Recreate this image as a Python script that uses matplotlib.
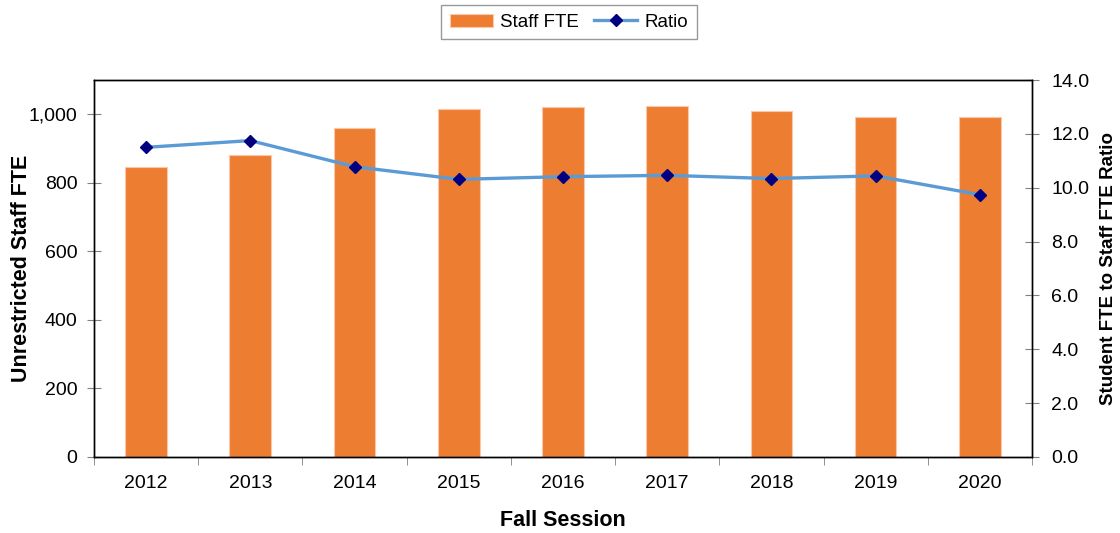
import matplotlib
matplotlib.use("Agg")
import matplotlib.pyplot as plt
from matplotlib.ticker import FuncFormatter, FixedLocator
import numpy as np

plt.rcParams['font.family'] = ['Liberation Sans', 'DejaVu Sans']

years = ['2012', '2013', '2014', '2015', '2016', '2017', '2018', '2019', '2020']
staff_fte = [845, 882, 960, 1016, 1022, 1024, 1010, 992, 992]
ratio = [11.50, 11.75, 10.78, 10.31, 10.41, 10.46, 10.34, 10.44, 9.74]

BAR_COLOR = '#ED7D31'
LINE_COLOR = '#5B9BD5'
MARKER_COLOR = '#000080'

fig = plt.figure(figsize=(11.2, 5.33), dpi=100)
ax = fig.add_axes([0.0839, 0.1426, 0.8375, 0.7073])
ax2 = ax.twinx()

x = np.arange(len(years))
ax.bar(x, staff_fte, width=0.4, color=BAR_COLOR, edgecolor='#F8C8A8',
       linewidth=0.8, label='Staff FTE', zorder=2)
ax2.plot(x, ratio, color=LINE_COLOR, linewidth=2.4, marker='D',
         markersize=6.5, markerfacecolor=MARKER_COLOR,
         markeredgecolor=MARKER_COLOR, label='Ratio', zorder=3)

# left axis
ax.set_xlim(-0.5, len(years) - 0.5)
ax.set_ylim(0, 1100)
ax.set_yticks(range(0, 1001, 200))
ax.yaxis.set_major_formatter(FuncFormatter(lambda v, p: f'{int(v):,}'))
ax.tick_params(axis='y', direction='inout', length=10, color='#808080',
               labelsize=14, pad=7)
ax.set_ylabel('Unrestricted Staff FTE', fontsize=15.5, fontweight='bold')
ax.yaxis.set_label_coords(-0.066, 0.5)

# x axis: labels at centers, ticks between categories
ax.set_xticks(x)
ax.set_xticklabels(years)
ax.tick_params(axis='x', length=0, labelsize=14, pad=13)
ax.xaxis.set_minor_locator(FixedLocator(np.arange(-0.5, len(years), 1.0)))
ax.tick_params(axis='x', which='minor', length=6, color='#808080',
               direction='out')
ax.set_xlabel('Fall Session', fontsize=15.5, fontweight='bold')
ax.xaxis.set_label_coords(0.5, -0.14)

# right axis
ax2.set_ylim(0, 14)
ax2.set_yticks(np.arange(0, 14.1, 2))
ax2.yaxis.set_major_formatter(FuncFormatter(lambda v, p: f'{v:.1f}'))
ax2.tick_params(axis='y', direction='inout', length=10, color='#808080',
                labelsize=14, pad=9)
ax2.set_ylabel('Student FTE to Staff FTE Ratio', fontsize=13.5,
               fontweight='bold')
ax2.yaxis.set_label_coords(1.0725, 0.5)

for a in (ax, ax2):
    for s in a.spines.values():
        s.set_color('black')
        s.set_linewidth(1.0)

# legend
h1, l1 = ax.get_legend_handles_labels()
h2, l2 = ax2.get_legend_handles_labels()
leg = fig.legend(h1 + h2, l1 + l2, loc='center', bbox_to_anchor=(0.508, 0.958),
                 ncol=2, frameon=True, fancybox=False, fontsize=13.5,
                 handlelength=2.3, columnspacing=0.8, handletextpad=0.4,
                 borderpad=0.45)
leg.get_frame().set_edgecolor('#808080')
leg.get_frame().set_linewidth(1.0)

fig.savefig('out.png', dpi=100)
